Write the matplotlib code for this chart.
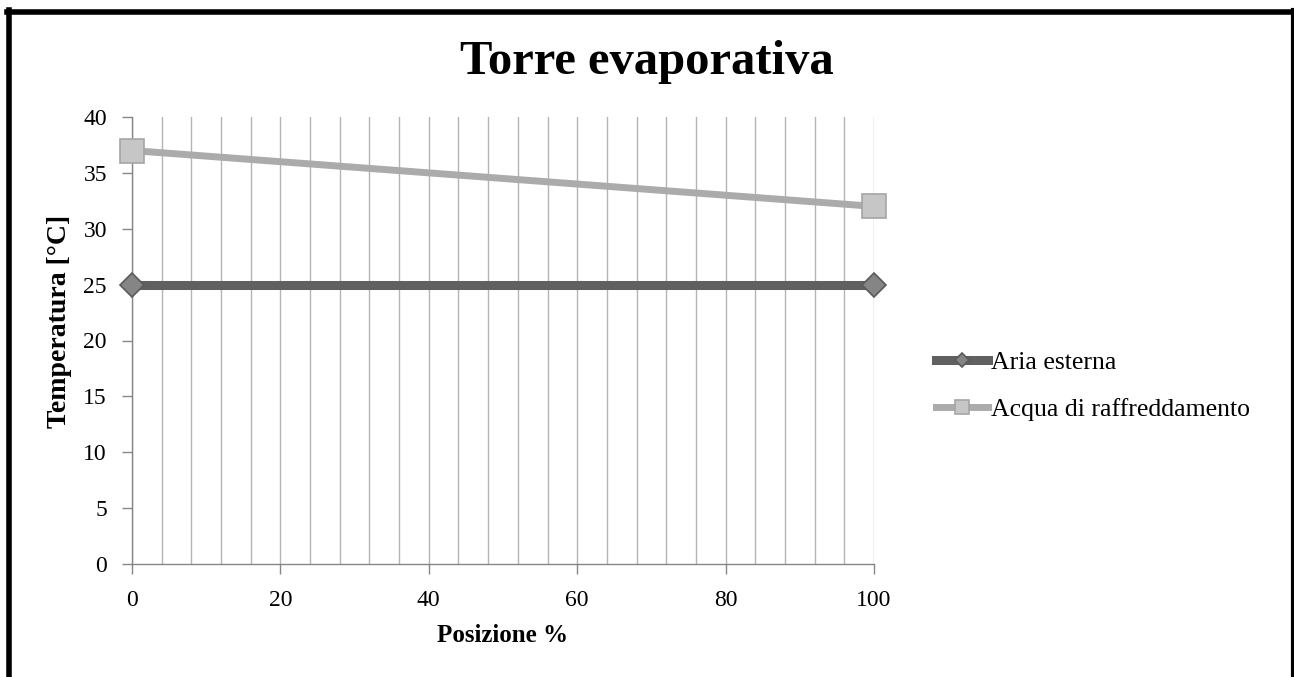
import matplotlib
matplotlib.use("Agg")
import matplotlib.pyplot as plt
from matplotlib.lines import Line2D
from matplotlib.ticker import MultipleLocator

# Data
posizione = [0, 100]
aria_esterna = [25, 25]
acqua_raffreddamento = [37, 32]
series_names = ["Aria esterna", "Acqua di raffreddamento"]
x_ticks = [0, 20, 40, 60, 80, 100]
y_ticks = [0, 5, 10, 15, 20, 25, 30, 35, 40]

plt.rcParams['font.family'] = ['Liberation Serif', 'DejaVu Serif']

fig = plt.figure(figsize=(12.94, 6.77), dpi=100)
ax = fig.add_axes([132/1294, 1-564/677, (874-132)/1294, (564-117)/677])

ax.set_xlim(0, 100)
ax.set_ylim(0, 40)
ax.set_xticks(x_ticks)
ax.set_yticks(y_ticks)
ax.xaxis.set_minor_locator(MultipleLocator(4))
ax.grid(True, which='both', axis='x', color='#b4b4b4', linewidth=1.0)
ax.set_axisbelow(True)
ax.tick_params(axis='x', which='minor', length=0)
ax.tick_params(axis='both', which='major', length=7, width=1, color='#868686',
               labelsize=17, direction='out')
ax.tick_params(axis='x', pad=12)
ax.tick_params(axis='y', pad=11)
for s in ['top', 'right']:
    ax.spines[s].set_visible(False)
for s in ['left', 'bottom']:
    ax.spines[s].set_color('#868686')
    ax.spines[s].set_linewidth(1)

l1, = ax.plot(posizione, aria_esterna, color='#606060', linewidth=6.5,
              marker='D', markersize=12, markerfacecolor='#858585',
              markeredgecolor='#5a5a5a', markeredgewidth=1.2,
              label=series_names[0], clip_on=False, zorder=4)
l2, = ax.plot(posizione, acqua_raffreddamento, color='#ababab', linewidth=5,
              marker='s', markersize=17, markerfacecolor='#c6c6c6',
              markeredgecolor='#a5a5a5', markeredgewidth=1.2,
              label=series_names[1], clip_on=False, zorder=3)

ax.set_xlabel("Posizione %", fontsize=18, fontweight='bold')
ax.xaxis.set_label_coords((503-132)/(874-132), -(636-564)/(564-117), transform=ax.transAxes)
ax.xaxis.label.set_va('center')
ax.set_ylabel("Temperatura [°C]", fontsize=20, fontweight='bold')
ax.yaxis.set_label_coords(-(132-59)/(874-132), (564-321)/(564-117), transform=ax.transAxes)
ax.yaxis.label.set_va('center')

fig.text(0.5, 1-62/677, "Torre evaporativa", ha='center', va='center',
         fontsize=35, fontweight='bold')

leg = fig.legend(handles=[l1, l2], loc='center left',
                 bbox_to_anchor=(913/1294, 1-386/677), frameon=False,
                 fontsize=18.5, handlelength=2.0, handletextpad=0.15,
                 labelspacing=0.95, markerscale=0.6)

# outer border (top, left, right)
fig.add_artist(Line2D([7/1294, 1292/1294], [1-11.5/677, 1-11.5/677],
                      transform=fig.transFigure, color='black', linewidth=4))
fig.add_artist(Line2D([8.5/1294, 8.5/1294], [0, 1-10/677],
                      transform=fig.transFigure, color='black', linewidth=4))
fig.add_artist(Line2D([1292.5/1294, 1292.5/1294], [0, 1-10/677],
                      transform=fig.transFigure, color='black', linewidth=3))

fig.savefig("out.png", dpi=100)
